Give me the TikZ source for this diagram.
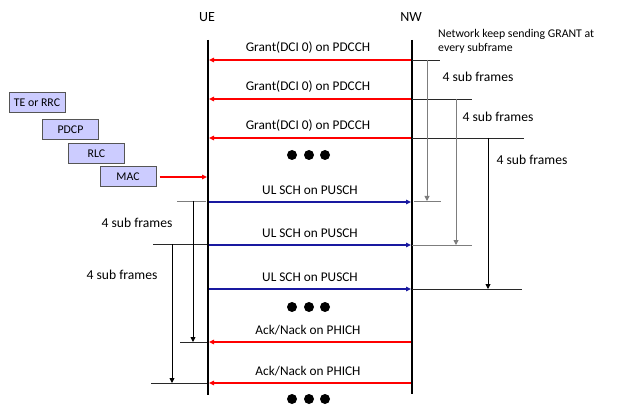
\documentclass[tikz,border=0pt]{standalone}
\usepackage{fontspec}
\setmainfont{Carlito}
\usetikzlibrary{arrows.meta}
\definecolor{dlred}{RGB}{255,0,0}
\definecolor{ulblue}{RGB}{25,25,160}
\definecolor{boxfill}{RGB}{204,204,255}
\definecolor{boxline}{RGB}{85,85,85}
\definecolor{tgray}{RGB}{125,125,125}
\definecolor{tdark}{RGB}{40,40,40}
\begin{document}
\begin{tikzpicture}[x=1pt,y=-1pt,
  lifeline/.style={line width=1.8pt,black},
  dlarrow/.style={line width=1.4pt,dlred,-{Triangle[length=5pt,width=4.5pt]}},
  ularrow/.style={line width=1.4pt,ulblue,-{Triangle[length=5pt,width=4.5pt]}},
  headlabel/.style={font=\fontsize{14}{16}\selectfont},
  msglabel/.style={font=\fontsize{13.3}{15}\selectfont,inner sep=0pt},
  notelabel/.style={font=\fontsize{11.8}{14}\selectfont,align=left,inner sep=0pt},
  sublabel/.style={font=\fontsize{13.6}{15}\selectfont,inner sep=0pt},
  layerbox/.style={draw=boxline,fill=boxfill,line width=1pt,minimum width=56pt,minimum height=20pt,inner sep=0pt,font=\fontsize{11.8}{13}\selectfont},
  tickline/.style={line width=0.9pt,tdark},
  tickgray/.style={line width=0.9pt,tgray},
  timearrow/.style={line width=0.9pt,black,-{Triangle[length=5pt,width=5pt]}},
  timegray/.style={line width=0.9pt,tgray,-{Triangle[length=5pt,width=5pt]}},
  bigdot/.style={circle,fill=black,minimum size=10pt,inner sep=0pt}
]
\useasboundingbox (0,0) rectangle (629,414);

% lifelines
\node[headlabel] (ue) at (207,17) {UE};
\node[headlabel] (nw) at (411,17) {NW};
\coordinate (uetop) at (208,40);
\coordinate (uebot) at (208,395);
\coordinate (nwtop) at (412,40);
\coordinate (nwbot) at (412,394);
\draw[lifeline] (uetop) -- (uebot);
\draw[lifeline] (nwtop) -- (nwbot);

% grants
\foreach \i/\y in {1/60,2/99,3/138}{
  \coordinate (gn\i) at (411,\y);
  \coordinate (gu\i) at (209,\y);
  \draw[dlarrow] (gn\i) -- (gu\i);
  \node[msglabel] (gl\i) at (308,\y-12) {Grant(DCI 0) on PDCCH};
}

% UL SCH
\foreach \i/\y in {1/202,2/245,3/289}{
  \coordinate (un\i) at (411,\y);
  \coordinate (uu\i) at (209,\y);
  \draw[ularrow] (uu\i) -- (un\i);
  \node[msglabel] (ul\i) at (310,\y-12) {UL SCH on PUSCH};
}

% Ack/Nack
\foreach \i/\y in {1/342,2/383}{
  \coordinate (an\i) at (411,\y);
  \coordinate (au\i) at (209,\y);
  \draw[dlarrow] (an\i) -- (au\i);
  \node[msglabel] (al\i) at (308,\y-12) {Ack/Nack on PHICH};
}

% dots
\foreach \i/\y in {1/155,2/307,3/399}{
  \node[bigdot] (da\i) at (292,\y) {};
  \node[bigdot] (db\i) at (309,\y) {};
  \node[bigdot] (dc\i) at (325,\y) {};
}

% layer boxes
\node[layerbox] (te) at (37,103) {TE or RRC};
\node[layerbox] (pdcp) at (70.5,129.5) {PDCP};
\node[layerbox] (rlc) at (96.5,154) {RLC};
\node[layerbox] (mac) at (128,177) {MAC};
\coordinate (macin) at (207,177);
\draw[dlarrow] (mac.east) ++(3,0) coordinate (macout) -- (macin);

% right timing
\node[notelabel,anchor=north west] (note) at (438,29.5) {Network keep sending GRANT at\\every subframe};
\coordinate (r1a) at (412,60); \coordinate (r1b) at (440,60);
\coordinate (r2a) at (412,99); \coordinate (r2b) at (472,99);
\coordinate (r3a) at (412,138); \coordinate (r3b) at (524,138);
\draw[tickline] (r1a) -- (r1b);
\draw[tickline] (r2a) -- (r2b);
\draw[tickline] (r3a) -- (r3b);
\coordinate (e1a) at (414,201); \coordinate (e1b) at (441,201);
\coordinate (e2a) at (412,245); \coordinate (e2b) at (472,245);
\coordinate (e3a) at (412,289); \coordinate (e3b) at (522,289);
\draw[tickgray] (e1a) -- (e1b);
\draw[tickgray] (e2a) -- (e2b);
\draw[tickline] (e3a) -- (e3b);
\coordinate (v1s) at (427,60); \coordinate (v1e) at (427,201);
\coordinate (v2s) at (456,99); \coordinate (v2e) at (456,245);
\coordinate (v3s) at (488,138); \coordinate (v3e) at (488,289);
\draw[timegray] (v1s) -- (v1e);
\draw[timegray] (v2s) -- (v2e);
\draw[timearrow] (v3s) -- (v3e);
\node[sublabel] (s1) at (478,77) {4 sub frames};
\node[sublabel] (s2) at (498,117) {4 sub frames};
\node[sublabel] (s3) at (532,160) {4 sub frames};

% left timing
\coordinate (l1a) at (177,201); \coordinate (l1b) at (206,201);
\coordinate (l2a) at (153,244); \coordinate (l2b) at (207,244);
\coordinate (l3a) at (180,342); \coordinate (l3b) at (207,342);
\coordinate (l4a) at (151,383); \coordinate (l4b) at (207,383);
\draw[tickgray] (l1a) -- (l1b);
\draw[tickline] (l2a) -- (l2b);
\draw[tickline] (l3a) -- (l3b);
\draw[tickline] (l4a) -- (l4b);
\coordinate (w1s) at (193,201); \coordinate (w1e) at (193,342);
\coordinate (w2s) at (172,244); \coordinate (w2e) at (172,383);
\draw[timearrow] (w1s) -- (w1e);
\draw[timearrow] (w2s) -- (w2e);
\node[sublabel] (s4) at (137,223) {4 sub frames};
\node[sublabel] (s5) at (122,275) {4 sub frames};
\end{tikzpicture}
\end{document}
